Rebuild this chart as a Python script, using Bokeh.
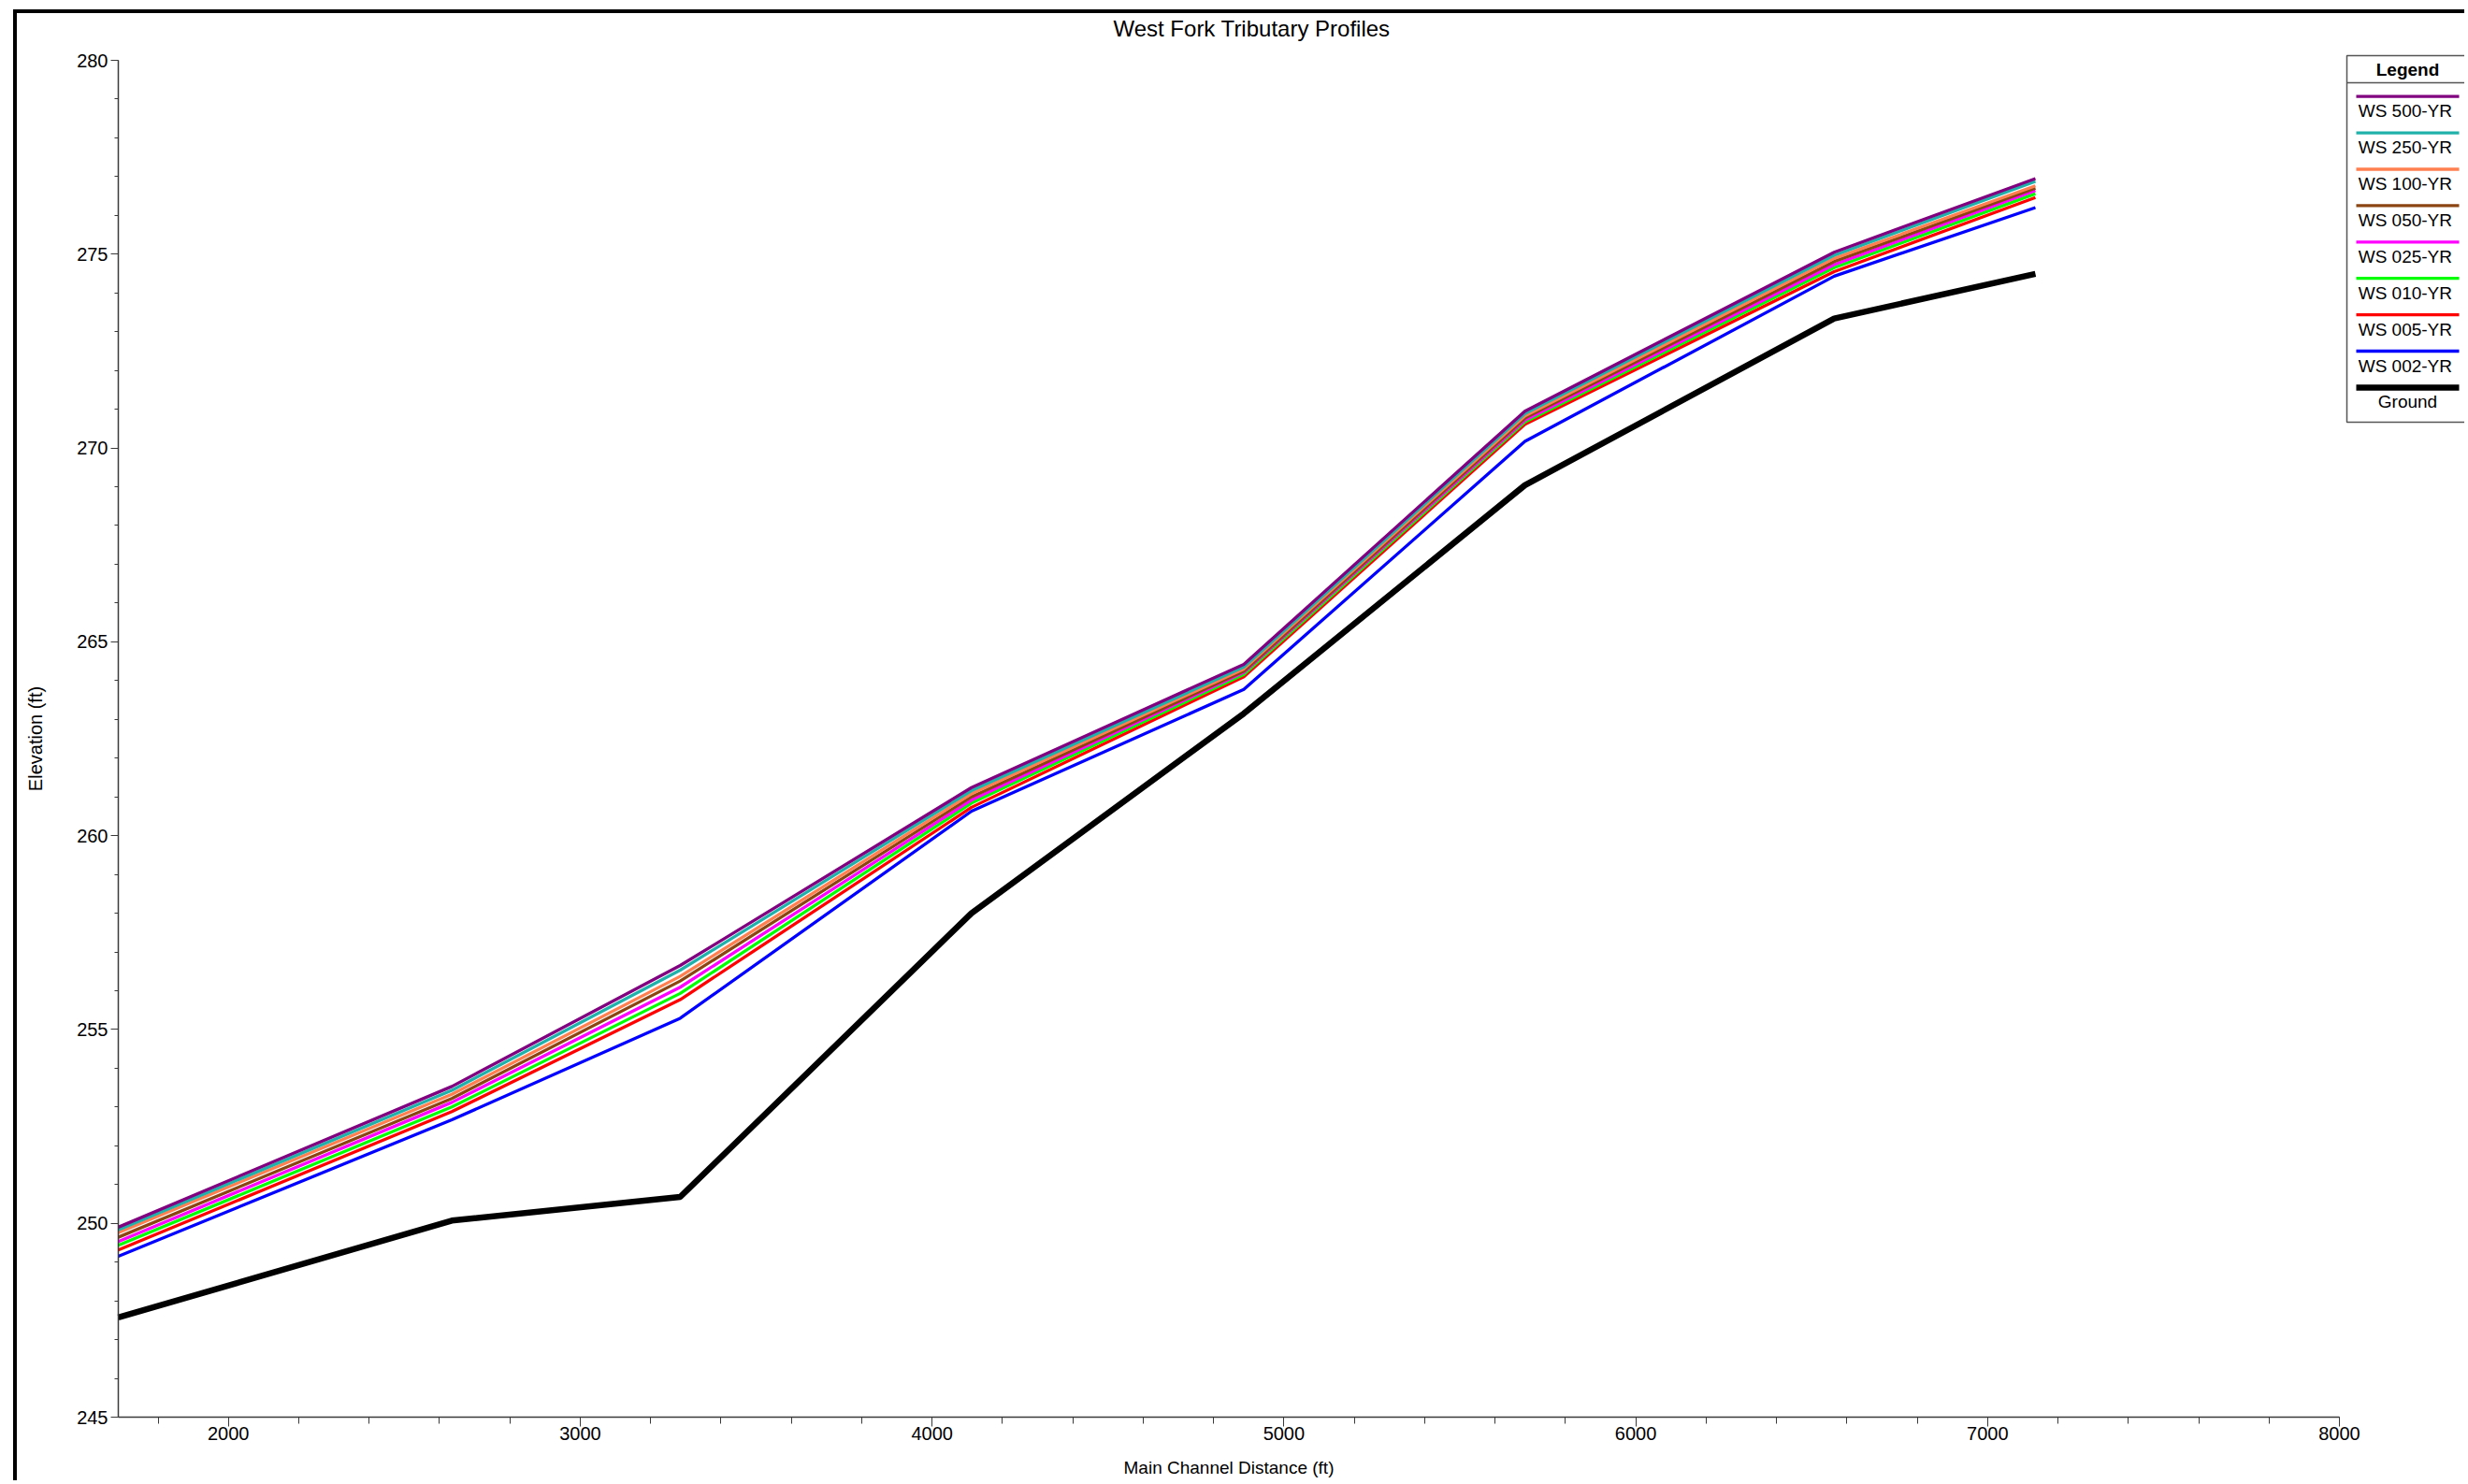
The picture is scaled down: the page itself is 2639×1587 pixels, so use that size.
import math
from bokeh.plotting import figure
from bokeh.models import Range1d, SingleIntervalTicker, ColumnDataSource
from bokeh.core.properties import value
from bokeh.embed import file_html
from bokeh.resources import INLINE

# ---------------- data ----------------
stations = [1687, 2635, 3284, 4112, 4886, 5685, 6564, 7136]
ground   = [247.57, 250.07, 250.68, 258.00, 263.15, 269.04, 273.34, 274.49]
ws_500 = [249.90, 253.53, 256.65, 261.24, 264.42, 270.95, 275.05, 276.95]
ws_250 = [249.83, 253.43, 256.53, 261.16, 264.35, 270.89, 274.97, 276.88]
ws_100 = [249.76, 253.33, 256.37, 261.08, 264.30, 270.83, 274.89, 276.76]
ws_050 = [249.64, 253.22, 256.25, 261.00, 264.24, 270.77, 274.81, 276.70]
ws_025 = [249.53, 253.12, 256.09, 260.92, 264.21, 270.72, 274.73, 276.64]
ws_010 = [249.43, 253.00, 255.93, 260.84, 264.16, 270.67, 274.65, 276.56]
ws_005 = [249.31, 252.88, 255.77, 260.73, 264.10, 270.61, 274.55, 276.46]
ws_002 = [249.15, 252.67, 255.29, 260.63, 263.77, 270.17, 274.43, 276.20]

names = ["WS  500-YR", "WS  250-YR", "WS  100-YR", "WS  050-YR",
         "WS  025-YR", "WS  010-YR", "WS  005-YR", "WS  002-YR", "Ground"]
series = [ws_500, ws_250, ws_100, ws_050, ws_025, ws_010, ws_005, ws_002, ground]
colors = ["#800080", "#20B2AA", "#FF7F50", "#8B4513",
          "#FF00FF", "#00FF00", "#FF0000", "#0000FF", "#000000"]
widths = [3.3, 3.3, 3.3, 3.3, 3.3, 3.3, 3.3, 3.3, 6.5]

title_text = "West Fork Tributary Profiles"
legend_title = "Legend"
x_label = "Main Channel Distance (ft)"
y_label = "Elevation (ft)"
x_max = 8000
y_min, y_max = 245, 280

FONT = "Liberation Sans"

# ---------------- layout (page pixels) ----------------
PAGE_W, PAGE_H = 2639, 1587
OX, OY = 18, 14                # canvas origin on the page (after CSS border)
W, H = PAGE_W - OX, PAGE_H - OY
A_LEFT, A_RIGHT, A_TOP, A_BOTTOM = 126, 2501, 64, 1515   # axes box on page

x0 = stations[0]
px_per_x = (A_RIGHT - A_LEFT) / (x_max - x0)
px_per_y = (A_BOTTOM - A_TOP) / (y_max - y_min)
x_start = x0 - (A_LEFT - OX) / px_per_x
x_end = x0 + (PAGE_W - A_LEFT) / px_per_x
y_start = y_min - (PAGE_H - A_BOTTOM) / px_per_y
y_end = y_min + (A_BOTTOM - OY) / px_per_y

p = figure(width=W, height=H, output_backend="svg", toolbar_location=None,
           x_range=Range1d(x_start, x_end), y_range=Range1d(y_start, y_end),
           min_border_left=0, min_border_right=0,
           min_border_top=0, min_border_bottom=0)
p.styles = {"margin-left": "14px", "margin-top": "10px",
            "border-left": "4px solid black", "border-top": "4px solid black",
            "white-space": "pre"}
p.extra_x_ranges = {"px": Range1d(OX, PAGE_W)}
p.extra_y_ranges = {"px": Range1d(PAGE_H, OY)}
p.outline_line_color = None
p.xgrid.visible = False
p.ygrid.visible = False
p.background_fill_color = "white"
p.border_fill_color = "white"

# ground first, then WS from 002 up to 500 (500 on top)
for i in reversed(range(len(series))):
    p.line(stations, series[i], line_color=colors[i], line_width=widths[i],
           line_join="round")

# axes (fixed inside the frame)
p.xaxis.ticker = SingleIntervalTicker(interval=1000, num_minor_ticks=5)
p.yaxis.ticker = SingleIntervalTicker(interval=5, num_minor_ticks=5)
p.xaxis.bounds = (x0, x_max)
p.yaxis.bounds = (y_min, y_max)
p.xaxis.fixed_location = y_min
p.yaxis.fixed_location = x0
for ax in (p.xaxis[0], p.yaxis[0]):
    ax.axis_line_color = "#3a3a3a"
    ax.axis_line_width = 1.5
    ax.major_tick_line_color = "#3a3a3a"
    ax.minor_tick_line_color = "#3a3a3a"
    ax.major_tick_in = 0
    ax.minor_tick_in = 0
    ax.major_label_text_font = FONT
    ax.major_label_text_font_size = "20px"
    ax.major_label_text_color = "black"

p.xaxis.major_tick_out = 10
p.xaxis.minor_tick_out = 7
p.xaxis.major_label_standoff = 0

p.yaxis.major_tick_out = 8
p.yaxis.minor_tick_out = 4
p.yaxis.major_label_standoff = 3

PX = dict(x_range_name="px", y_range_name="px")

# title and axis titles
p.text(x=[1338], y=[30], text=[title_text], text_align="center",
       text_baseline="middle", text_font=value(FONT), text_font_size="24px",
       text_color="black", **PX)
p.text(x=[(A_LEFT + A_RIGHT) / 2], y=[1569], text=[x_label], text_align="center",
       text_baseline="middle", text_font=value(FONT), text_font_size="19px",
       text_color="black", **PX)
p.text(x=[37], y=[(A_TOP + A_BOTTOM) / 2], text=[y_label], angle=math.pi / 2,
       text_align="center", text_baseline="middle", text_font=value(FONT),
       text_font_size="20px", text_color="black", **PX)

# legend box
LX0, LX1, LY0, LY1 = 2509, PAGE_W + 30, 59, 451
p.quad(left=[LX0], right=[LX1], top=[LY0], bottom=[LY1], fill_color="white",
       line_color="#555555", line_width=1.5, **PX)
p.segment(x0=[LX0], x1=[LX1], y0=[88], y1=[88], line_color="#555555",
          line_width=1.5, **PX)
p.text(x=[2574], y=[74], text=[legend_title], text_align="center",
       text_baseline="middle", text_font=value(FONT), text_font_size="19px",
       text_font_style="bold", text_color="black", **PX)

ly = [102.7 + 38.9 * i for i in range(len(names))]
leg = ColumnDataSource(dict(
    x0=[2519] * len(names), x1=[2629] * len(names), y=ly,
    ty=[v + 15.5 for v in ly], tx=[2574] * len(names),
    name=names, color=colors, width=widths))
p.segment(x0="x0", x1="x1", y0="y", y1="y", line_color="color",
          line_width="width", source=leg, **PX)
p.text(x="tx", y="ty", text="name", text_align="center", text_baseline="middle",
       text_font=value(FONT), text_font_size="19px", text_color="black",
       source=leg, **PX)

open("out.html", "w").write(file_html(p, INLINE))
